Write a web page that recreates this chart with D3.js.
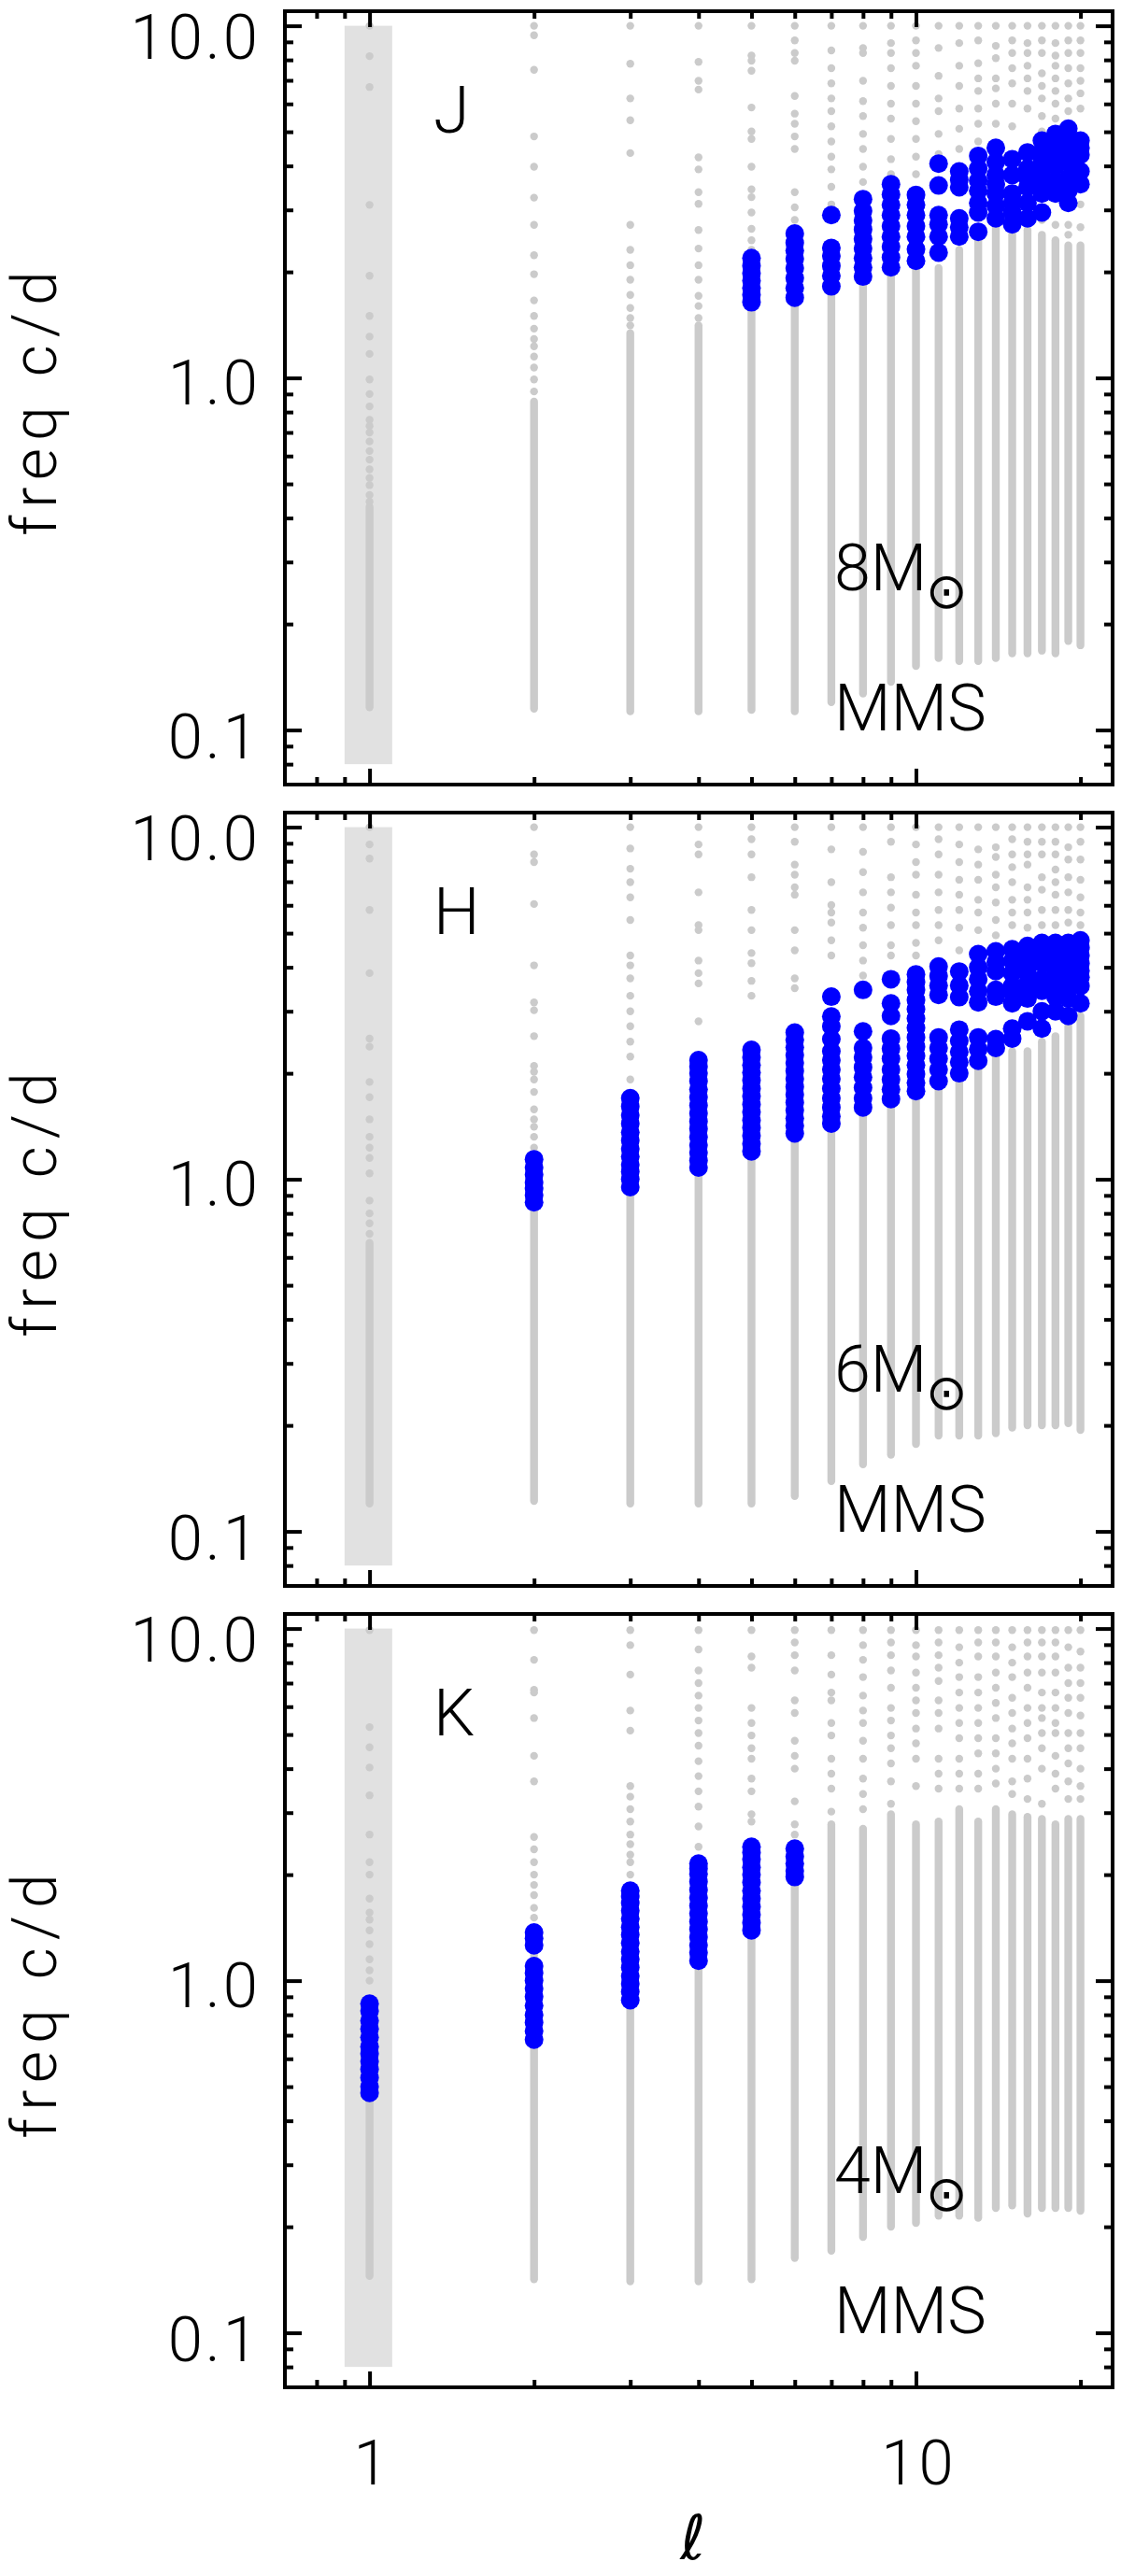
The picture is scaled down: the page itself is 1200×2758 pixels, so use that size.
<!DOCTYPE html>
<html>
<head>
<meta charset="utf-8">
<script src="https://cdn.jsdelivr.net/npm/d3@7"></script>
<style>
  body { margin: 0; background: #fff; }
  text { font-family: Roboto, "Noto Sans", sans-serif; font-weight: 300; fill: #000; }
</style>
</head>
<body>
<svg id="chart"></svg>
<script>
'use strict';

// degree l of each column
var ells = [1, 2, 3, 4, 5, 6, 7, 8, 9, 10, 11, 12, 13, 14, 15, 16, 17, 18, 19, 20];

// axis ticks and labels
var xTickMajor = [1, 10];
var xTickMinor = [0.8, 0.9, 2, 3, 4, 5, 6, 7, 8, 9, 20];
var xTickLabels = ["1", "10"];
var yTickMajor = [0.1, 1, 10];
var yTickMinor = [0.08, 0.09, 0.2, 0.3, 0.4, 0.5, 0.6, 0.7, 0.8, 0.9, 2, 3, 4, 5, 6, 7, 8, 9];
var yTickLabels = ["0.1", "1.0", "10.0"];

// shaded band around l = 1
var bandEll = [0.9, 1.1];
var bandFreq = [0.08, 10];

// panel annotations
var panelBands = ["J", "H", "K"];
var panelMasses = ["8", "6", "4"];
var panelModel = "MMS";

// ---- J panel (8 Msun) ----
var jLow = [0.116, 0.115, 0.113, 0.113, 0.114, 0.113, 0.120, 0.127, 0.137, 0.152, 0.160, 0.157, 0.157, 0.160, 0.165, 0.165, 0.168, 0.165, 0.179, 0.174];
var jDenseTop = [0.43, 0.856, 1.34, 1.41, 1.55, 1.60, 1.71, 1.83, 1.95, 2.05, 2.05, 2.31, 2.46, 2.72, 2.55, 2.63, 2.55, 2.46, 2.38, 2.38];
var jSparse = [
  [10, 8.2, 6.7, 3.1, 1.95, 1.50, 1.31, 1.17, 0.99, 0.90, 0.83, 0.76, 0.73, 0.70, 0.66, 0.62, 0.586, 0.55, 0.52, 0.496, 0.465, 0.445],
  [10, 9.4, 7.5, 4.85, 3.98, 3.25, 2.72, 2.23, 1.97, 1.66, 1.50, 1.38, 1.29, 1.23, 1.15, 1.07, 0.99, 0.915],
  [10, 7.8, 6.22, 5.39, 4.35, 2.72, 2.31, 2.09, 1.90, 1.72, 1.58, 1.48, 1.41],
  [10, 7.9, 6.98, 6.59, 4.23, 3.91, 3.37, 3.12, 2.63, 2.33, 2.09, 1.90, 1.71, 1.60, 1.48],
  [10, 8.23, 7.96, 7.45, 5.86, 5.01, 4.77, 3.98, 3.43, 3.26, 2.95, 2.65, 2.46, 2.31],
  [10, 9.09, 8.37, 7.96, 6.32, 5.63, 5.27, 4.85, 4.47, 3.37, 3.05, 2.81],
  [10, 8.51, 7.58, 6.86, 6.22, 5.72, 5.18, 4.69, 4.25, 3.91, 3.49, 3.11],
  [10, 8.65, 8.37, 6.98, 6.11, 5.54, 4.93, 4.47, 3.98, 3.60],
  [10, 8.93, 8.37, 7.58, 6.75, 6.01, 5.45, 4.77, 4.18, 3.79],
  [10, 9.09, 8.37, 7.70, 6.75, 6.01, 5.36, 4.77, 4.25, 3.79],
  [10, 8.65, 7.21, 6.22, 5.72, 4.93, 4.32],
  [10, 8.93, 7.70, 6.75, 5.82, 5.10, 4.47],
  [10, 9.09, 7.83, 7.09, 6.53, 5.82, 5.27, 4.69],
  [10, 8.77, 8.09, 7.09, 6.64, 6.01, 5.27],
  [10, 9.09, 8.37, 7.58, 6.86, 6.01, 5.18],
  [10, 8.93, 8.37, 7.70, 7.09, 6.53, 5.82],
  [10, 9.09, 8.37, 7.33, 6.75, 6.22, 5.54, 5.01, 2.81],
  [10, 8.93, 8.23, 7.70, 7.09, 6.53, 6.01, 5.45, 2.72],
  [10, 9.09, 8.37, 7.58, 6.86, 6.22, 5.72, 2.72, 2.55],
  [10, 9.09, 8.37, 7.58, 6.98, 6.43, 5.82, 3.11, 2.68]
];
var jBlue = [
  [], [], [], [],
  [1.64, 1.72, 1.80, 1.89, 1.98, 2.08, 2.19],
  [1.69, 1.80, 1.92, 2.05, 2.18, 2.30, 2.42, 2.57],
  [1.82, 1.95, 2.08, 2.22, 2.34, 2.90],
  [1.94, 2.06, 2.19, 2.33, 2.48, 2.64, 2.80, 2.98, 3.22],
  [2.06, 2.20, 2.36, 2.52, 2.70, 2.90, 3.10, 3.32, 3.55],
  [2.15, 2.32, 2.52, 2.70, 2.90, 3.10, 3.31],
  [2.27, 2.52, 2.73, 2.90, 3.52, 4.06],
  [2.52, 2.68, 2.84, 3.48, 3.65, 3.86],
  [2.60, 2.95, 3.14, 3.40, 3.63, 3.93, 4.27],
  [2.84, 3.08, 3.34, 3.55, 3.77, 4.10, 4.50],
  [2.73, 2.95, 3.14, 3.34, 3.77, 4.18],
  [2.84, 3.14, 3.48, 3.70, 3.93, 4.37],
  [2.95, 3.34, 3.60, 3.77, 4.10, 4.40, 4.72],
  [3.34, 3.63, 4.00, 4.30, 4.52, 4.93],
  [3.14, 3.40, 3.70, 4.10, 4.40, 4.64, 5.10],
  [3.55, 3.86, 4.30, 4.50, 4.72]
];

// ---- H panel (6 Msun) ----
var hLow = [0.120, 0.122, 0.120, 0.120, 0.120, 0.126, 0.139, 0.155, 0.165, 0.177, 0.187, 0.187, 0.187, 0.190, 0.197, 0.200, 0.200, 0.200, 0.203, 0.194];
var hDenseTop = [0.66, 0.83, 0.915, 1.04, 1.15, 1.32, 1.38, 1.55, 1.60, 1.71, 1.83, 1.92, 2.09, 2.23, 2.31, 2.31, 2.46, 2.55, 2.72, 2.91];
var hSparse = [
  [10, 8.93, 8.14, 5.82, 3.85, 2.51, 2.38, 1.89, 1.71, 1.48, 1.32, 1.23, 1.15, 1.04, 0.87, 0.80, 0.75, 0.70],
  [10, 8.37, 7.96, 6.05, 4.05, 3.18, 3.02, 2.55, 2.10, 2.02, 1.92, 1.77, 1.58, 1.48, 1.41, 1.32, 1.23],
  [10, 8.70, 7.62, 6.98, 6.32, 5.45, 4.32, 4.05, 3.72, 3.32, 3.00, 2.72, 2.46, 2.23, 1.92],
  [10, 8.93, 8.37, 6.53, 5.27, 5.10, 4.18, 3.85, 3.60, 2.81],
  [10, 9.24, 8.37, 7.21, 5.82, 5.10, 4.39, 4.11, 3.66, 3.32],
  [10, 9.09, 7.83, 7.33, 6.75, 6.43, 5.10, 4.47, 3.72, 3.49],
  [10, 8.65, 6.98, 6.01, 5.72, 5.36, 4.77, 4.32],
  [10, 8.51, 7.45, 6.53, 5.72, 5.18, 4.62, 4.18, 3.79],
  [10, 9.09, 7.21, 6.53, 5.91, 5.27, 4.62, 4.32],
  [10, 8.93, 7.96, 7.33, 6.43, 5.72, 5.27, 4.69, 4.32],
  [10, 9.24, 8.37, 7.33, 6.53, 5.82, 5.27, 4.77],
  [10, 8.93, 7.96, 7.09, 6.43, 5.82, 5.18, 4.47],
  [10, 8.65, 7.83, 7.09, 6.22, 5.72, 5.10],
  [10, 8.77, 8.23, 7.33, 6.75, 6.11, 5.45, 4.93],
  [10, 9.24, 8.37, 7.70, 6.98, 6.22, 5.72, 5.27],
  [10, 9.09, 8.37, 7.83, 6.75, 6.22, 5.72, 5.18],
  [10, 9.09, 8.37, 7.21, 6.64, 5.82, 5.27],
  [10, 9.09, 8.37, 7.58, 6.98, 6.43, 5.82, 5.27],
  [10, 8.77, 8.09, 7.21, 6.53, 5.82, 5.36],
  [10, 9.09, 8.09, 7.09, 6.32, 5.72, 5.27]
];
var hBlue = [
  [],
  [0.86, 0.90, 0.94, 0.98, 1.03, 1.08, 1.14],
  [0.95, 1.00, 1.05, 1.10, 1.16, 1.22, 1.29, 1.36, 1.44, 1.52, 1.61, 1.70],
  [1.08, 1.13, 1.19, 1.25, 1.32, 1.39, 1.46, 1.54, 1.62, 1.71, 1.80, 1.90, 2.00, 2.09, 2.18],
  [1.20, 1.26, 1.33, 1.40, 1.47, 1.55, 1.63, 1.72, 1.81, 1.91, 2.01, 2.11, 2.22, 2.33],
  [1.35, 1.42, 1.49, 1.57, 1.65, 1.74, 1.83, 1.93, 2.03, 2.14, 2.25, 2.37, 2.49, 2.61],
  [1.44, 1.51, 1.60, 1.70, 1.81, 1.93, 2.05, 2.18, 2.31, 2.50, 2.72, 2.90, 3.30],
  [1.60, 1.70, 1.82, 1.95, 2.08, 2.22, 2.36, 2.63, 3.45],
  [1.69, 1.80, 1.92, 2.05, 2.20, 2.35, 2.51, 2.91, 3.16, 3.70],
  [1.78, 1.88, 1.99, 2.11, 2.24, 2.38, 2.53, 2.69, 2.86, 3.04, 3.23, 3.45, 3.63, 3.82],
  [1.90, 2.05, 2.20, 2.36, 2.53, 3.34, 3.55, 3.78, 4.02],
  [2.00, 2.15, 2.30, 2.47, 2.66, 3.29, 3.55, 3.89],
  [2.17, 2.34, 2.53, 3.18, 3.42, 3.70, 4.00, 4.36],
  [2.36, 2.50, 3.30, 3.45, 3.90, 4.14, 4.44],
  [2.51, 2.68, 3.16, 3.40, 3.54, 3.85, 4.17, 4.50],
  [2.81, 3.26, 3.45, 3.60, 3.85, 4.05, 4.30, 4.60],
  [2.68, 3.00, 3.43, 3.70, 4.11, 4.40, 4.69],
  [3.00, 3.30, 3.49, 3.70, 3.91, 4.32, 4.69],
  [2.91, 3.26, 3.50, 3.79, 4.05, 4.32, 4.69],
  [3.16, 3.54, 3.75, 3.91, 4.10, 4.32, 4.55, 4.77]
];

// ---- K panel (4 Msun) ----
var kLow = [0.145, 0.142, 0.140, 0.140, 0.142, 0.163, 0.171, 0.187, 0.200, 0.205, 0.215, 0.215, 0.212, 0.226, 0.230, 0.218, 0.226, 0.226, 0.226, 0.222];
var kDenseTop = [0.475, 0.66, 0.86, 1.12, 1.39, 1.97, 2.78, 2.70, 2.97, 2.78, 2.83, 3.07, 2.83, 3.07, 2.97, 2.92, 2.88, 2.78, 2.88, 2.88];
var kSparse = [
  [9.9, 5.25, 4.6, 4.03, 3.36, 2.60, 2.17, 2.0, 1.71, 1.56, 1.49, 1.39, 1.27, 1.15, 1.07, 1.0],
  [9.9, 8.15, 6.7, 6.58, 5.57, 4.35, 3.68, 2.56, 2.36, 2.17, 2.0, 1.87, 1.75, 1.61, 1.51, 1.18],
  [9.9, 8.97, 7.4, 5.85, 5.13, 3.57, 3.33, 3.07, 2.83, 2.60, 2.44, 2.28, 2.17, 2.0],
  [9.9, 8.72, 7.6, 7.0, 6.45, 5.95, 5.48, 5.05, 4.65, 4.2, 3.81, 3.45, 3.12, 2.74, 2.40],
  [9.9, 8.33, 7.74, 5.95, 5.39, 4.97, 4.57, 4.27, 3.75, 3.45, 2.97, 2.83],
  [9.9, 9.13, 8.4, 7.6, 6.25, 5.76, 4.8, 4.35, 4.0, 3.23, 2.78, 2.60],
  [9.9, 8.4, 7.4, 6.58, 6.25, 5.39, 4.97, 4.27, 3.87, 3.51, 3.02],
  [9.9, 8.97, 8.15, 7.28, 6.45, 5.85, 5.39, 4.8, 4.27, 3.75, 3.39, 3.07],
  [9.9, 9.13, 8.4, 7.6, 6.79, 5.95, 5.48, 4.97, 4.57, 4.14, 3.68, 3.18],
  [9.9, 8.97, 8.33, 7.5, 6.79, 6.25, 5.76, 5.2, 4.72, 4.27, 3.57],
  [9.9, 9.13, 8.4, 7.74, 7.1, 6.25, 5.76, 5.2, 4.27, 3.87, 3.51],
  [9.9, 8.85, 8.0, 7.28, 6.58, 5.95, 5.39, 4.88, 4.27, 3.87, 3.51],
  [9.9, 9.13, 8.33, 7.28, 6.58, 5.95, 5.39, 4.88, 4.42, 3.87, 3.51],
  [9.9, 9.13, 8.33, 7.5, 6.79, 6.15, 5.57, 4.88, 4.42, 4.0, 3.63],
  [9.9, 8.85, 8.0, 7.28, 6.36, 5.76, 5.2, 4.72, 4.27, 3.68, 3.39],
  [9.9, 9.13, 8.33, 7.5, 6.79, 5.95, 5.39, 4.88, 4.27, 3.75, 3.28],
  [9.9, 9.13, 8.33, 7.5, 6.58, 5.95, 5.57, 5.05, 4.57, 4.0, 3.18],
  [9.9, 9.13, 8.33, 7.5, 6.58, 5.95, 5.39, 5.05, 4.35, 3.87, 3.51],
  [9.9, 8.85, 7.74, 7.0, 6.36, 5.76, 5.05, 4.57, 4.14, 3.68, 3.28],
  [9.9, 8.6, 7.74, 7.0, 6.36, 5.66, 5.05, 4.57, 4.0, 3.57, 3.28]
];
var kBlue = [
  [0.48, 0.50, 0.53, 0.56, 0.59, 0.62, 0.65, 0.69, 0.73, 0.77, 0.82, 0.86],
  [0.68, 0.72, 0.76, 0.80, 0.85, 0.90, 0.95, 1.00, 1.05, 1.10, 1.26, 1.32, 1.37],
  [0.88, 0.93, 0.98, 1.03, 1.09, 1.15, 1.21, 1.28, 1.35, 1.42, 1.50, 1.58, 1.66, 1.74, 1.80],
  [1.14, 1.20, 1.26, 1.33, 1.40, 1.47, 1.55, 1.63, 1.72, 1.81, 1.91, 2.01, 2.08, 2.15],
  [1.39, 1.46, 1.54, 1.62, 1.71, 1.80, 1.90, 2.00, 2.10, 2.21, 2.31, 2.40],
  [1.97, 2.05, 2.15, 2.25, 2.37],
  [], [], [], [], [], [], [], [], [], [], [], [], [], []
];

var panels = [
  { band: panelBands[0], mass: panelMasses[0], low: jLow, top: jDenseTop, sparse: jSparse, blue: jBlue },
  { band: panelBands[1], mass: panelMasses[1], low: hLow, top: hDenseTop, sparse: hSparse, blue: hBlue },
  { band: panelBands[2], mass: panelMasses[2], low: kLow, top: kDenseTop, sparse: kSparse, blue: kBlue }
];

// layout
var width = 1200, height = 2758;
var plotLeft = 305, plotRight = 1191;
var panelTops = [12, 870, 1728];
var panelH = 828;
var grey = "#cbcbcb";
// baseline offset of each y tick label below its tick
var yLabelDrop = [30, 28, 35];

var svg = d3.select("#chart")
    .attr("width", width)
    .attr("height", height)
    .attr("viewBox", "0 0 " + width + " " + height);

var x = d3.scaleLog()
    .domain([0.7, 22.9])
    .range([plotLeft, plotRight]);

panels.forEach(function (p, i) {
    var y = d3.scaleLog()
        .domain([0.07, 11])
        .range([panelH, 0]);

    var g = svg.append("g")
        .attr("transform", "translate(0," + panelTops[i] + ")");

    // grey band at l = 1
    g.append("rect")
        .attr("x", x(bandEll[0]))
        .attr("y", y(bandFreq[1]))
        .attr("width", x(bandEll[1]) - x(bandEll[0]))
        .attr("height", y(bandFreq[0]) - y(bandFreq[1]))
        .attr("fill", "#e1e1e1");

    // dense part of each grey column (overlapping points)
    g.selectAll(".dense")
        .data(ells)
        .enter().append("line")
        .attr("class", "dense")
        .attr("x1", function (d) { return x(d); })
        .attr("x2", function (d) { return x(d); })
        .attr("y1", function (d, j) { return y(p.low[j]); })
        .attr("y2", function (d, j) { return y(p.top[j]); })
        .attr("stroke", grey)
        .attr("stroke-width", 8.4)
        .attr("stroke-linecap", "round");

    // isolated grey points
    var sparse = [];
    ells.forEach(function (l, j) {
        p.sparse[j].forEach(function (f) { sparse.push({ l: l, f: f }); });
    });
    g.selectAll(".sparse")
        .data(sparse)
        .enter().append("circle")
        .attr("class", "sparse")
        .attr("cx", function (d) { return x(d.l); })
        .attr("cy", function (d) { return y(d.f); })
        .attr("r", 4.2)
        .attr("fill", grey);

    // blue points
    var blue = [];
    ells.forEach(function (l, j) {
        p.blue[j].forEach(function (f) { blue.push({ l: l, f: f }); });
    });
    g.selectAll(".blue")
        .data(blue)
        .enter().append("circle")
        .attr("class", "blue")
        .attr("cx", function (d) { return x(d.l); })
        .attr("cy", function (d) { return y(d.f); })
        .attr("r", 10)
        .attr("fill", "#0000ff");

    // ticks on all four sides, pointing inward
    function ticks(axis, tx, ty) {
        var a = g.append("g")
            .attr("transform", "translate(" + tx + "," + ty + ")")
            .call(axis);
        a.select(".domain").remove();
        a.selectAll("line").attr("stroke", "#000").attr("stroke-width", 4);
        a.selectAll("text").remove();
    }
    ticks(d3.axisLeft(y).tickValues(yTickMajor).tickSize(-18), plotLeft, 0);
    ticks(d3.axisLeft(y).tickValues(yTickMinor).tickSize(-9), plotLeft, 0);
    ticks(d3.axisRight(y).tickValues(yTickMajor).tickSize(-18), plotRight, 0);
    ticks(d3.axisRight(y).tickValues(yTickMinor).tickSize(-9), plotRight, 0);
    ticks(d3.axisBottom(x).tickValues(xTickMajor).tickSize(-17), 0, panelH);
    ticks(d3.axisBottom(x).tickValues(xTickMinor).tickSize(-8), 0, panelH);
    ticks(d3.axisTop(x).tickValues(xTickMajor).tickSize(-17), 0, 0);
    ticks(d3.axisTop(x).tickValues(xTickMinor).tickSize(-8), 0, 0);

    // frame
    g.append("rect")
        .attr("x", plotLeft)
        .attr("y", 0)
        .attr("width", plotRight - plotLeft)
        .attr("height", panelH)
        .attr("fill", "none")
        .attr("stroke", "#000")
        .attr("stroke-width", 4);

    // y tick labels
    g.selectAll(".ylab")
        .data(yTickMajor)
        .enter().append("text")
        .attr("class", "ylab")
        .attr("x", 279)
        .attr("y", function (d, j) { return y(d) + yLabelDrop[j]; })
        .attr("text-anchor", "end")
        .style("font-size", "67px")
        .style("letter-spacing", "3px")
        .text(function (d, j) { return yTickLabels[j]; });

    // y title
    g.append("text")
        .attr("transform", "translate(60," + (panelH / 2 + 2) + ") rotate(-90)")
        .attr("text-anchor", "middle")
        .style("font-size", "66px")
        .style("letter-spacing", "8px")
        .text("freq c/d");

    // band letter
    g.append("text")
        .attr("x", 464)
        .attr("y", 130)
        .style("font-size", "70px")
        .text(p.band);

    // mass and model
    g.append("text")
        .attr("x", 893)
        .attr("y", 620)
        .style("font-size", "70px")
        .text(p.mass + "M");
    g.append("text")
        .attr("x", 991)
        .attr("y", 639)
        .style("font-family", "'DejaVu Sans'")
        .style("font-weight", "normal")
        .style("font-size", "53px")
        .text("\u2299");
    g.append("text")
        .attr("x", 893)
        .attr("y", 770)
        .style("font-size", "70px")
        .text(panelModel);

    // x tick labels on the bottom panel only
    if (i === panels.length - 1) {
        g.selectAll(".xlab")
            .data(xTickMajor)
            .enter().append("text")
            .attr("class", "xlab")
            .attr("x", function (d) { return x(d) + 3; })
            .attr("y", panelH + 104)
            .attr("text-anchor", "middle")
            .style("font-size", "67px")
            .style("letter-spacing", "3px")
            .text(function (d, j) { return xTickLabels[j]; });

        g.append("text")
            .attr("x", (plotLeft + plotRight) / 2 - 6)
            .attr("y", panelH + 184)
            .attr("text-anchor", "middle")
            .style("font-family", "'DejaVu Sans'")
            .style("font-style", "italic")
            .style("font-weight", "normal")
            .style("font-size", "66px")
            .text("\u2113");
    }
});
</script>
</body>
</html>
